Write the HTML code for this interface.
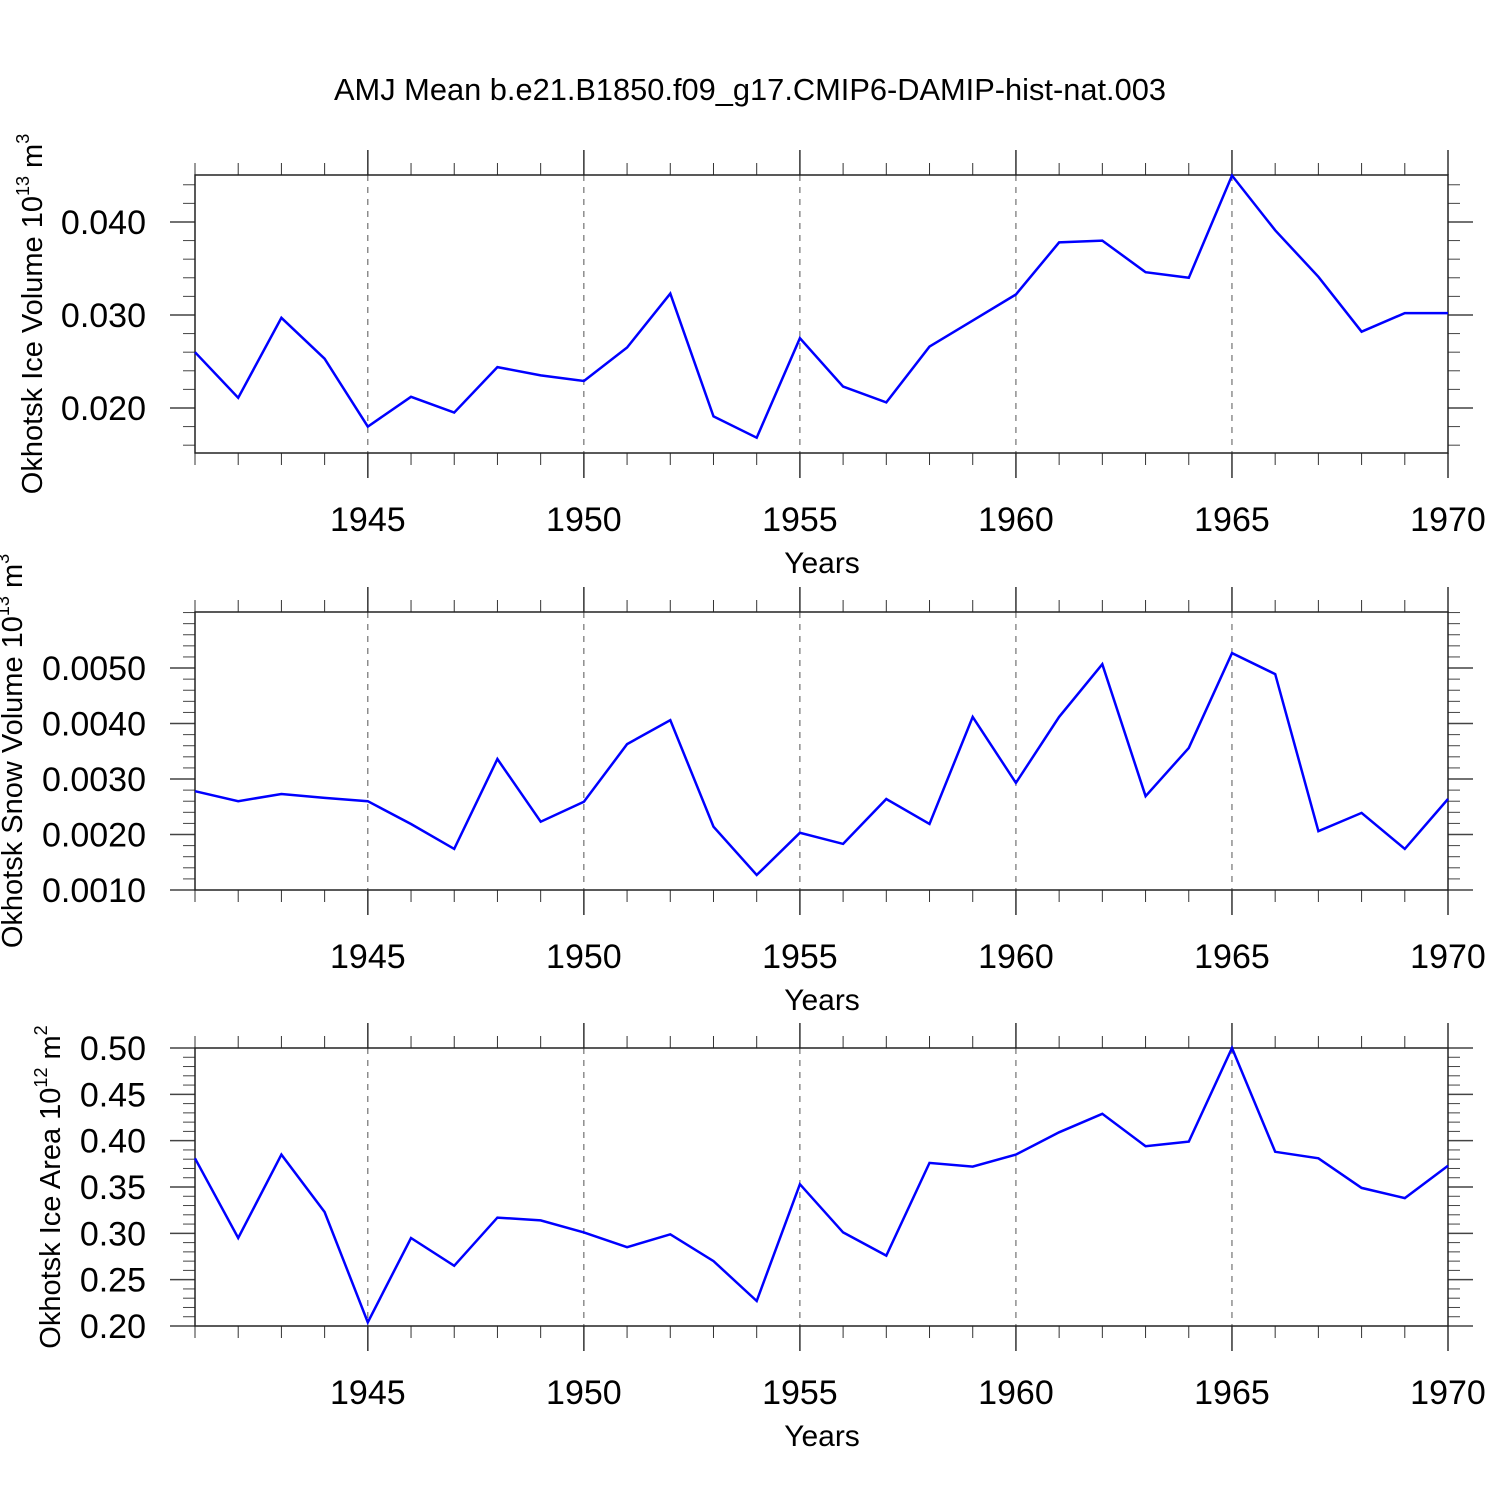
<!DOCTYPE html>
<html><head><meta charset="utf-8"><style>
html,body{margin:0;padding:0;background:#fff;}
svg{display:block;font-family:"Liberation Sans",Arial,sans-serif;}
</style></head><body>
<svg id="chart" width="1500" height="1500" viewBox="0 0 1500 1500" xmlns="http://www.w3.org/2000/svg">
<text x="750" y="100" font-size="30.8" text-anchor="middle">AMJ Mean b.e21.B1850.f09_g17.CMIP6-DAMIP-hist-nat.003</text>
</svg>
<script>
const years = [1941,1942,1943,1944,1945,1946,1947,1948,1949,1950,1951,1952,1953,1954,1955,1956,1957,1958,1959,1960,1961,1962,1963,1964,1965,1966,1967,1968,1969,1970];
const iceVolume = [0.0260,0.0211,0.0297,0.0253,0.0180,0.0212,0.0195,0.0244,0.0235,0.0229,0.0265,0.0323,0.0191,0.0168,0.0275,0.0223,0.0206,0.0266,0.0294,0.0322,0.0378,0.0380,0.0346,0.0340,0.0450,0.0391,0.0341,0.0282,0.0302,0.0302];
const snowVolume = [0.00278,0.00260,0.00273,0.00266,0.00260,0.00219,0.00174,0.00336,0.00223,0.00259,0.00363,0.00406,0.00214,0.00127,0.00203,0.00183,0.00264,0.00219,0.00412,0.00293,0.00412,0.00507,0.00269,0.00356,0.00527,0.00489,0.00206,0.00239,0.00174,0.00264];
const iceArea = [0.381,0.295,0.385,0.323,0.204,0.295,0.265,0.317,0.314,0.301,0.285,0.299,0.270,0.227,0.353,0.301,0.276,0.376,0.372,0.385,0.409,0.429,0.394,0.399,0.500,0.388,0.381,0.349,0.338,0.373];
const xTickYears = [1945,1950,1955,1960,1965,1970];
const iceVolTicks = [0.020,0.030,0.040];
const iceVolTickLabels = ["0.020","0.030","0.040"];
const snowTicks = [0.0010,0.0020,0.0030,0.0040,0.0050];
const snowTickLabels = ["0.0010","0.0020","0.0030","0.0040","0.0050"];
const areaTicks = [0.20,0.25,0.30,0.35,0.40,0.45,0.50];
const areaTickLabels = ["0.20","0.25","0.30","0.35","0.40","0.45","0.50"];

const NS="http://www.w3.org/2000/svg";
const svg=document.getElementById('chart');
function mk(tag,attrs,parent){const e=document.createElementNS(NS,tag);for(const k in attrs)e.setAttribute(k,attrs[k]);(parent||svg).appendChild(e);return e;}
const X0=195,X1=1448,Y0=1941,Y1=1970;
function xs(y){return X0+(y-Y0)/(Y1-Y0)*(X1-X0);}

const panels=[
 {top:175,bot:453,vmin:0.01516,vmax:0.04505,data:iceVolume,ticks:iceVolTicks,labels:iceVolTickLabels,minor:0.002,name:'ice-volume',tx:42,title:['Okhotsk Ice Volume 10','13',' m','3']},
 {top:612,bot:890,vmin:0.0010,vmax:0.00601,data:snowVolume,ticks:snowTicks,labels:snowTickLabels,minor:0.0002,name:'snow-volume',tx:22,title:['Okhotsk Snow Volume 10','13',' m','3']},
 {top:1048,bot:1326,vmin:0.20,vmax:0.50,data:iceArea,ticks:areaTicks,labels:areaTickLabels,minor:0.01,name:'ice-area',tx:60,title:['Okhotsk Ice Area 10','12',' m','2']}
];
panels.forEach(p=>{
 const g=mk('g',{});
 
 
 const ys=v=>p.bot-(v-p.vmin)/(p.vmax-p.vmin)*(p.bot-p.top);
 xTickYears.forEach(yr=>{
  if(yr===Y1)return;
  const l=mk('line',{x1:xs(yr),x2:xs(yr),y1:p.top,y2:p.bot,stroke:'#555','stroke-width':1,'stroke-dasharray':'6,6'},g);
  
  
 });
 for(let yr=Y0;yr<=Y1;yr++){
  const maj=yr%5===0,len=maj?25:12,x=xs(yr);
  mk('line',{x1:x,x2:x,y1:p.top,y2:p.top-len,stroke:'#333','stroke-width':maj?1.5:1},g);
  mk('line',{x1:x,x2:x,y1:p.bot,y2:p.bot+len,stroke:'#333','stroke-width':maj?1.5:1},g);
 }
 const n0=Math.ceil(p.vmin/p.minor-1e-6),n1=Math.floor(p.vmax/p.minor+1e-6);
 for(let i=n0;i<=n1;i++){
  const v=i*p.minor,y=ys(v);
  const maj=p.ticks.some(t=>Math.abs(t-v)<p.minor/10);
  const len=maj?25:12;
  mk('line',{x1:X0,x2:X0-len,y1:y,y2:y,stroke:'#444','stroke-width':maj?1.5:1},g);
  mk('line',{x1:X1,x2:X1+len,y1:y,y2:y,stroke:'#444','stroke-width':maj?1.5:1},g);
 }
 p.ticks.forEach((t,i)=>{
  const tx=mk('text',{x:146,y:ys(t)+12,'font-size':34,'text-anchor':'end'},g);
  
  
  tx.textContent=p.labels[i];
 });
 xTickYears.forEach(yr=>{
  const tx=mk('text',{x:xs(yr),y:p.bot+78,'font-size':34,'text-anchor':'middle'},g);
  
  
  tx.textContent=yr;
 });
 const xt=mk('text',{x:822,y:p.bot+120,'font-size':30,'text-anchor':'middle'},g);
 
 
 xt.textContent='Years';
 mk('rect',{x:X0,y:p.top,width:X1-X0,height:p.bot-p.top,fill:'none',stroke:'#222','stroke-width':1.5},g);
 const pts=p.data.map((v,i)=>xs(years[i]).toFixed(1)+','+ys(v).toFixed(1)).join(' ');
 const pl=mk('polyline',{points:pts,fill:'none',stroke:'#0000ff','stroke-width':2.5,'stroke-linejoin':'miter'},g);
 
 
 const cy=(p.top+p.bot)/2;
 const yt=mk('text',{x:0,y:0,'font-size':29,'text-anchor':'middle',transform:`translate(${p.tx},${cy}) rotate(-90)`},g);
 
 
 const t=p.title;
 const a=mk('tspan',{},yt);a.textContent=t[0];
 const b=mk('tspan',{dy:-13,'font-size':18},yt);b.textContent=t[1];
 const c=mk('tspan',{dy:13},yt);c.textContent=t[2];
 const d=mk('tspan',{dy:-13,'font-size':18},yt);d.textContent=t[3];
});
</script>
</body></html>
